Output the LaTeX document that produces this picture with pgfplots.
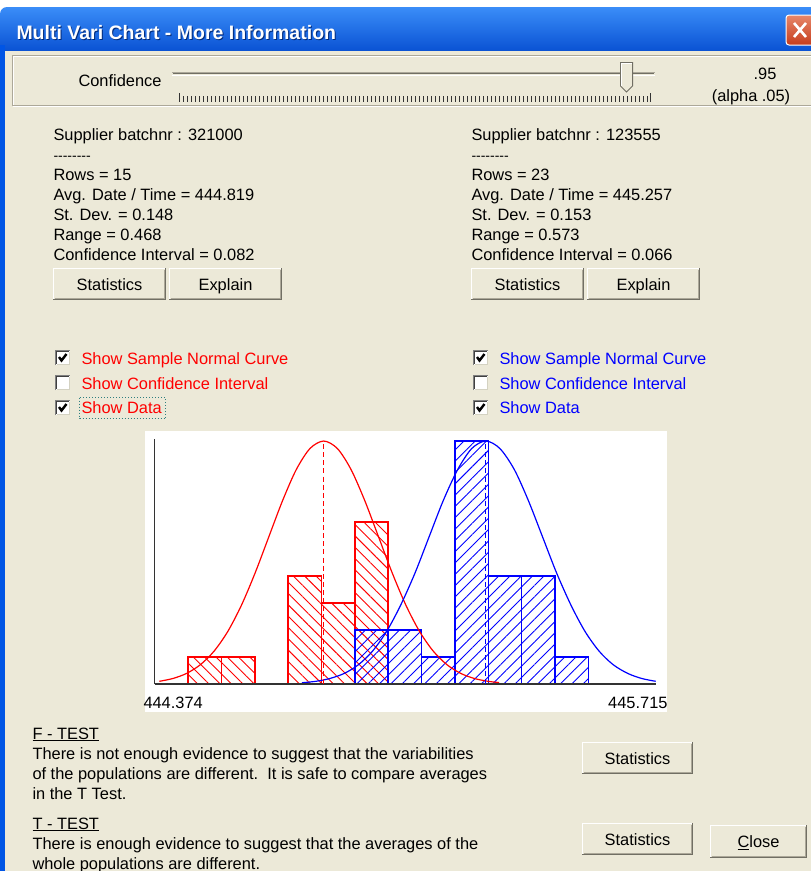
\documentclass[border=0pt]{standalone}
\usepackage{pgfplots}
\pgfplotsset{compat=1.18}
\usepackage{fontspec}
\setmainfont{Liberation Sans}
\usetikzlibrary{patterns.meta}

\definecolor{dlgbg}{HTML}{ECE9D8}
\definecolor{shadowgray}{HTML}{ACA899}
\definecolor{darkgray}{HTML}{716F64}
\definecolor{xpblue}{HTML}{0055E5}
\definecolor{xplight}{HTML}{3A8DF8}
\definecolor{xpdark}{HTML}{0046CC}
\definecolor{closetop}{HTML}{E7876A}
\definecolor{closebot}{HTML}{C63C1C}
\definecolor{focusteal}{HTML}{2E7F7F}

\tikzset{ui/.style={font=\fontsize{16.4}{20}\selectfont, inner sep=0pt, anchor=base west}}

% classic 3D push button: x1, y1, x2, y2 (pixels, y down), caption
\newcommand{\xpbutton}[5]{%
  \fill[dlgbg] (#1,#2) rectangle (#3,#4);
  \draw[white] (#1+0.5,#4-1) -- (#1+0.5,#2+0.5) -- (#3-1,#2+0.5);
  \draw[shadowgray] (#1+1.5,#4-1.5) -- (#3-1.5,#4-1.5) -- (#3-1.5,#2+1.5);
  \draw[darkgray] (#1,#4-0.5) -- (#3-0.5,#4-0.5) -- (#3-0.5,#2);
  \node[ui, anchor=base] at ({(#1+#3)/2},{(#2+#4)/2+6}) {#5};
}
% check box: x, y of top left corner, 1 if ticked
\newcommand{\xpcheck}[3]{%
  \fill[white] (#1,#2) rectangle (#1+15,#2+15);
  \draw[gray] (#1+0.5,#2+15) -- (#1+0.5,#2+0.5) -- (#1+15,#2+0.5);
  \draw[black!75] (#1+1.5,#2+14) -- (#1+1.5,#2+1.5) -- (#1+14,#2+1.5);
  \draw[dlgbg!90!black] (#1+1.5,#2+14.5) -- (#1+14.5,#2+14.5) -- (#1+14.5,#2+1.5);
  \ifnum#3=1 \draw[black, line width=2.4pt] (#1+4,#2+7) -- (#1+6.5,#2+10.5) -- (#1+11.5,#2+4);\fi
}

\begin{document}
\begin{tikzpicture}
\useasboundingbox (0,0) rectangle (811pt,-871pt);
\begin{scope}[x=1pt, y=-1pt, line width=1pt]
  \clip (0,0) rectangle (811,871);
  \fill[white] (0,0) rectangle (811,871);
  % window frame and title bar
  \shade[top color=xplight, middle color=xpblue, bottom color=xpdark, rounded corners=7pt] (0,7) rectangle (830,60);
  \fill[xpblue] (0,45) rectangle (5,871);
  \fill[dlgbg] (5,51) rectangle (811,871);
  \node[anchor=base west, inner sep=0pt, text=xpdark!60!black, font=\bfseries\fontsize{19.5}{24}\selectfont] at (17,40) {Multi Vari Chart - More Information};
  \node[anchor=base west, inner sep=0pt, text=white, font=\bfseries\fontsize{19.5}{24}\selectfont] at (16,39) {Multi Vari Chart - More Information};
  \shade[top color=closetop, bottom color=closebot, draw=white, rounded corners=3pt] (786,15) rectangle (825,45);
  \draw[white, line width=2.6pt] (794,23) -- (806,37) (806,23) -- (794,37);

  % confidence slider group
  \draw[white] (13.5,56.5) rectangle (830,106.5);
  \draw[shadowgray] (12.5,55.5) rectangle (829,105.5);
  \node[ui] at (78,86) {Confidence};
  \draw[shadowgray] (172,72.5) -- (655,72.5);
  \draw[darkgray] (173,73.5) -- (654,73.5);
  \draw[white] (172,75.5) -- (655,75.5);
  \foreach \i in {0,...,117} {\draw[black!80] ({179.5+\i*4.0},96) -- ({179.5+\i*4.0},101.5);}
  \draw[black!80] (179.5,93) -- (179.5,101.5) (650.5,93) -- (650.5,101.5);
  \filldraw[fill=dlgbg, draw=darkgray] (620.5,62.5) -- (632.5,62.5) -- (632.5,86) -- (626.5,92) -- (620.5,86) -- cycle;
  \draw[white] (621.5,85.5) -- (621.5,63.5) -- (631.5,63.5);
  \node[ui, anchor=base] at (765,79) {.95};
  \node[ui, anchor=base] at (751,101) {(alpha .05)};

  % supplier statistics
  \node[ui] at (53,140) {Supplier batchnr : 321000};
  \node[ui, font=\fontsize{14}{16}\selectfont] at (53,160) {-{}-{}-{}-{}-{}-{}-{}-};
  \node[ui] at (53,180) {Rows = 15};
  \node[ui] at (53,200) {Avg. Date / Time = 444.819};
  \node[ui] at (53,220) {St. Dev. = 0.148};
  \node[ui] at (53,240) {Range = 0.468};
  \node[ui] at (53,260) {Confidence Interval = 0.082};
  \xpbutton{53}{268}{166}{300}{Statistics}
  \xpbutton{169}{268}{282}{300}{Explain}

  \node[ui] at (471,140) {Supplier batchnr : 123555};
  \node[ui, font=\fontsize{14}{16}\selectfont] at (471,160) {-{}-{}-{}-{}-{}-{}-{}-};
  \node[ui] at (471,180) {Rows = 23};
  \node[ui] at (471,200) {Avg. Date / Time = 445.257};
  \node[ui] at (471,220) {St. Dev. = 0.153};
  \node[ui] at (471,240) {Range = 0.573};
  \node[ui] at (471,260) {Confidence Interval = 0.066};
  \xpbutton{471}{268}{584}{300}{Statistics}
  \xpbutton{587}{268}{700}{300}{Explain}

  % check boxes
  \xpcheck{55}{350}{1}
  \xpcheck{55}{375}{0}
  \xpcheck{55}{400}{1}
  \node[ui, text=red] at (81,364) {Show Sample Normal Curve};
  \node[ui, text=red] at (81,389) {Show Confidence Interval};
  \node[ui, text=red] at (81,413) {Show Data};
  \draw[focusteal, dotted] (79.5,397.5) rectangle (165.5,418.5);
  \xpcheck{473}{350}{1}
  \xpcheck{473}{375}{0}
  \xpcheck{473}{400}{1}
  \node[ui, text=blue] at (499,364) {Show Sample Normal Curve};
  \node[ui, text=blue] at (499,389) {Show Confidence Interval};
  \node[ui, text=blue] at (499,413) {Show Data};

  % chart background and end labels
  \fill[white] (145,431) rectangle (667,712);
  \node[ui] at (143,708) {444.374};
  \node[ui, anchor=base east] at (668,708) {445.715};

  % tests
  \node[ui] at (32,739) {\underline{F - TEST}};
  \node[ui] at (32,759) {There is not enough evidence to suggest that the variabilities};
  \node[ui] at (32,779) {of the populations are different.\ \ It is safe to compare averages};
  \node[ui] at (32,799) {in the T Test.};
  \xpbutton{582}{742}{693}{774}{Statistics}
  \node[ui] at (32,829) {\underline{T - TEST}};
  \node[ui] at (32,849) {There is enough evidence to suggest that the averages of the};
  \node[ui] at (32,869) {whole populations are different.};
  \xpbutton{582}{823}{693}{855}{Statistics}
  \xpbutton{710}{825}{807}{858}{\underline{C}lose}
\end{scope}

\begin{axis}[
    at={(154.5pt,-684pt)}, anchor=south west,
    scale only axis, width=501.6pt, height=244.6pt,
    xmin=444.362, xmax=445.717, ymin=0, ymax=9.06,
    axis lines=left, axis on top,
    axis line style={-, line width=1.6pt, draw=black!80},
    every outer x axis line/.append style={-},
    every outer y axis line/.append style={-},
    ticks=none, clip=false,
]
    % histogram counts, supplier 321000
    \addplot[ybar interval, draw=red, line width=1.5pt, pattern={Lines[angle=-45,distance=8pt,line width=0.9pt]}, pattern color=red]
        coordinates {(444.453,1) (444.543,1) (444.633,0) (444.723,4) (444.813,3) (444.903,6) (444.993,0)};
    % histogram counts, supplier 123555
    \addplot[ybar interval, draw=blue, line width=1.5pt, pattern={Lines[angle=45,distance=8pt,line width=0.9pt]}, pattern color=blue]
        coordinates {(444.903,2) (444.993,2) (445.083,1) (445.174,9) (445.264,4) (445.354,4) (445.444,1) (445.534,0)};
    % averages, drawn as dashed vertical lines (one dash per point)
    \addplot[only marks, mark=|, mark size=2.5pt, color=red, mark options={line width=1.3pt, solid}] coordinates {
        (444.819,0.09) (444.819,0.39) (444.819,0.69) (444.819,0.99) (444.819,1.29) (444.819,1.59)
        (444.819,1.89) (444.819,2.19) (444.819,2.49) (444.819,2.79) (444.819,3.09) (444.819,3.39)
        (444.819,3.69) (444.819,3.99) (444.819,4.29) (444.819,4.59) (444.819,4.89) (444.819,5.19)
        (444.819,5.49) (444.819,5.79) (444.819,6.09) (444.819,6.39) (444.819,6.69) (444.819,6.99)
        (444.819,7.29) (444.819,7.59) (444.819,7.89) (444.819,8.19) (444.819,8.49) (444.819,8.79)};
    \addplot[only marks, mark=|, mark size=2.5pt, color=blue, mark options={line width=1.3pt, solid}] coordinates {
        (445.257,0.09) (445.257,0.39) (445.257,0.69) (445.257,0.99) (445.257,1.29) (445.257,1.59)
        (445.257,1.89) (445.257,2.19) (445.257,2.49) (445.257,2.79) (445.257,3.09) (445.257,3.39)
        (445.257,3.69) (445.257,3.99) (445.257,4.29) (445.257,4.59) (445.257,4.89) (445.257,5.19)
        (445.257,5.49) (445.257,5.79) (445.257,6.09) (445.257,6.39) (445.257,6.69) (445.257,6.99)
        (445.257,7.29) (445.257,7.59) (445.257,7.89) (445.257,8.19) (445.257,8.49) (445.257,8.79)};
    % sample normal curves
    \addplot[color=red, line width=1.2pt, smooth, no marks] coordinates {
        (444.375,0.100) (444.412,0.205) (444.449,0.395) (444.486,0.716) (444.523,1.218)
        (444.560,1.947) (444.597,2.922) (444.634,4.120) (444.671,5.459) (444.708,6.793)
        (444.745,7.943) (444.782,8.723) (444.819,9.000) (444.856,8.723) (444.893,7.943)
        (444.930,6.793) (444.967,5.459) (445.004,4.120) (445.041,2.922) (445.078,1.947)
        (445.115,1.218) (445.152,0.716) (445.189,0.395) (445.226,0.205) (445.263,0.100)
        (445.293,0.054)};
    \addplot[color=blue, line width=1.2pt, smooth, no marks] coordinates {
        (444.760,0.046) (444.798,0.100) (444.836,0.205) (444.875,0.395) (444.913,0.716)
        (444.951,1.218) (444.989,1.947) (445.027,2.922) (445.066,4.120) (445.104,5.459)
        (445.142,6.793) (445.181,7.943) (445.219,8.723) (445.257,9.000) (445.295,8.723)
        (445.334,7.943) (445.372,6.793) (445.410,5.459) (445.448,4.120) (445.487,2.922)
        (445.525,1.947) (445.563,1.218) (445.601,0.716) (445.640,0.395) (445.678,0.205)
        (445.716,0.100)};
\end{axis}
\end{tikzpicture}
\end{document}
